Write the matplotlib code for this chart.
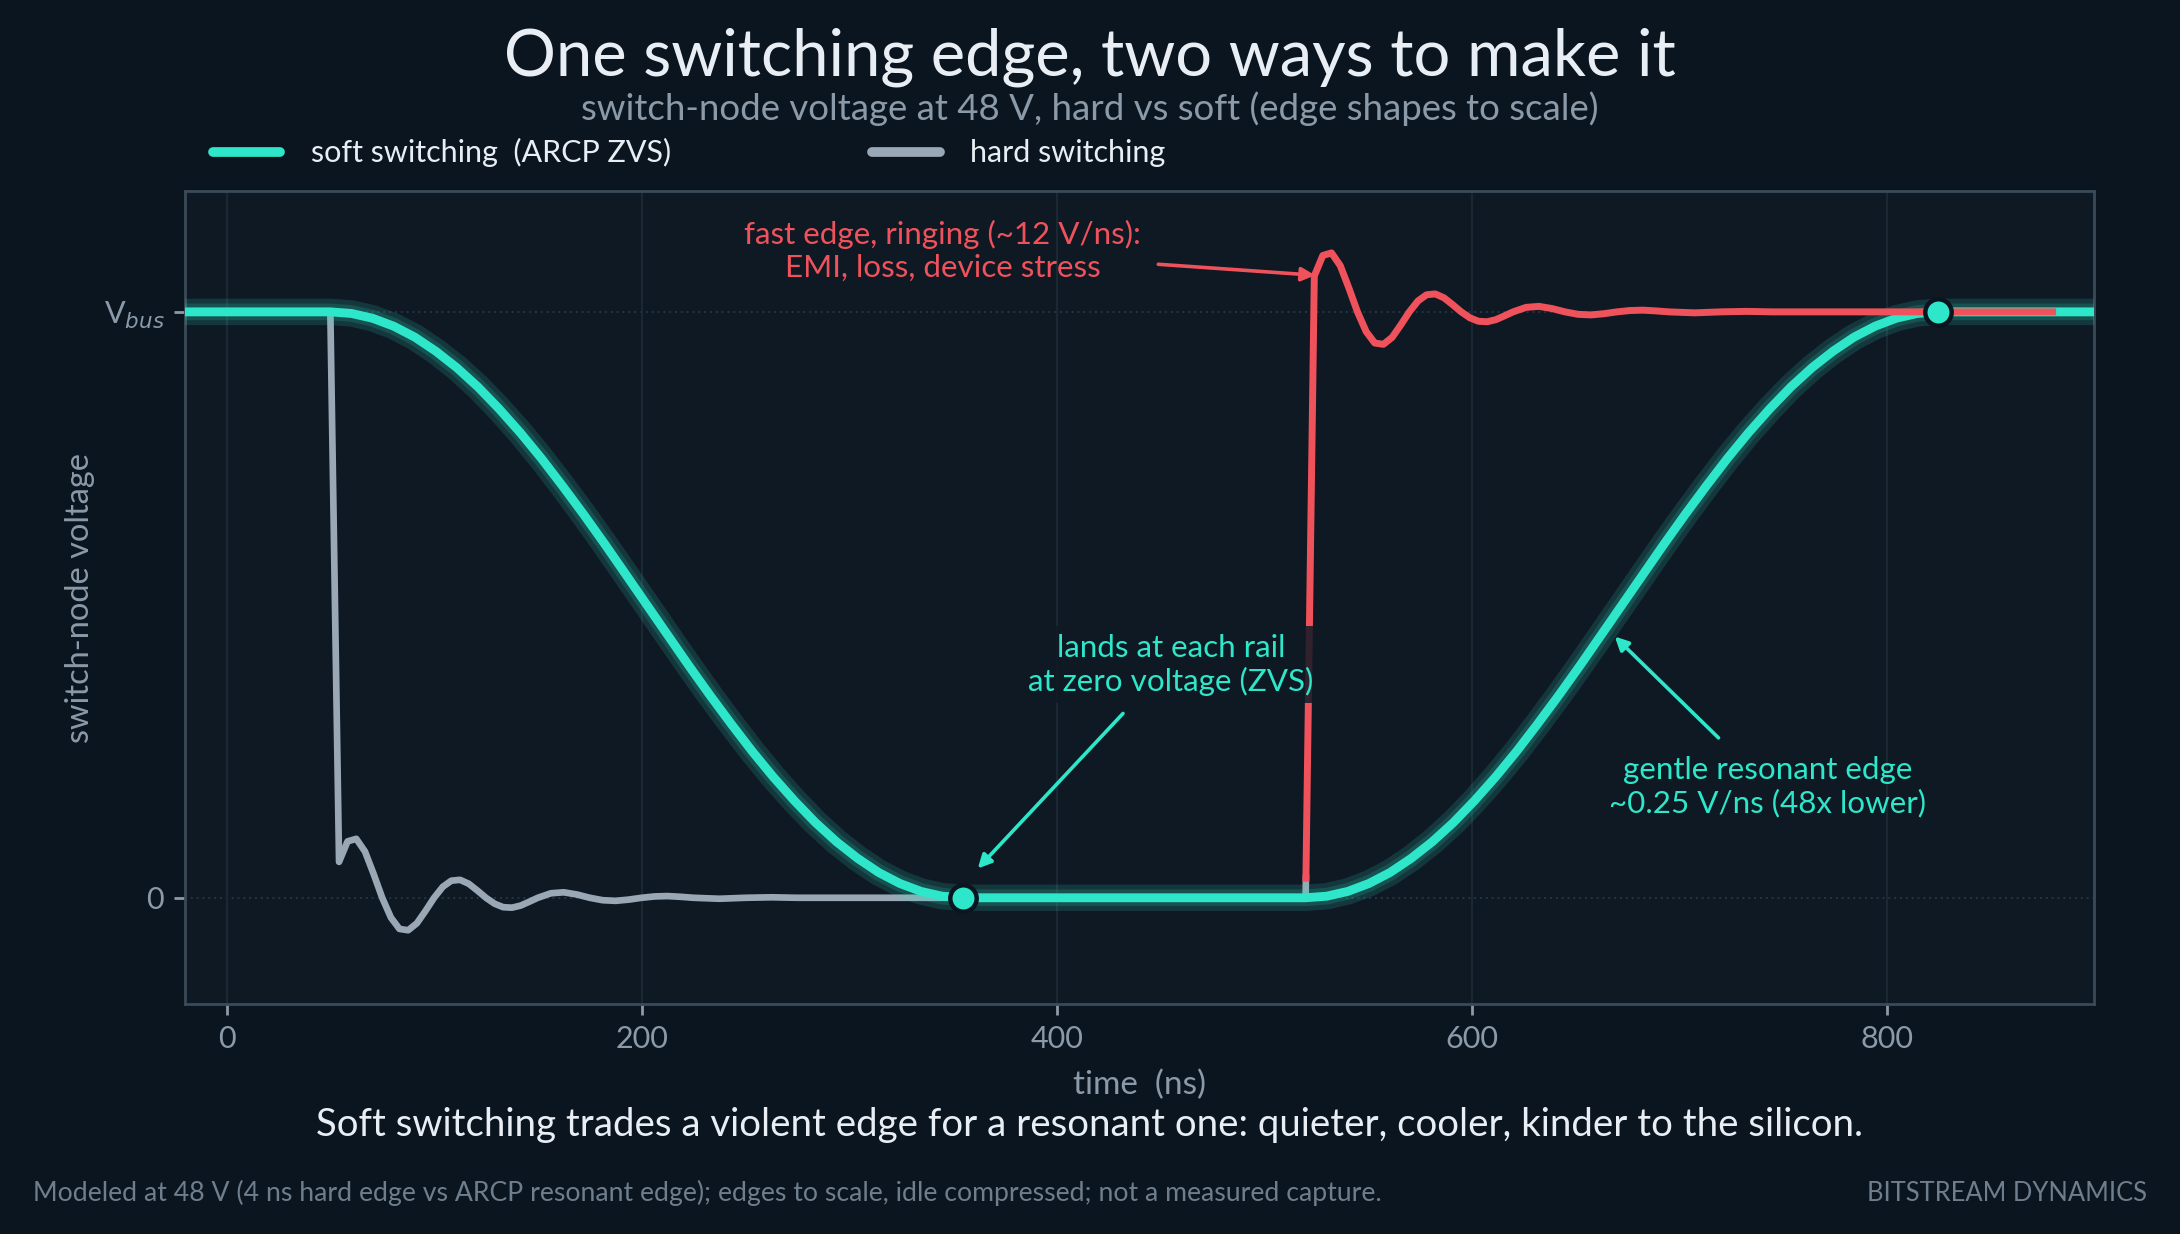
import matplotlib
matplotlib.use('Agg')
import matplotlib.pyplot as plt
from matplotlib.lines import Line2D

plt.rcParams['font.family'] = ['Lato', 'DejaVu Sans']

BG = '#0b1520'
AX_BG = '#0f1924'
TEAL = '#2ee6c9'
GRAY = '#9aa8b5'
RED = '#f0525c'
MUTED = '#8b9aa8'
TEXT = '#e8eef3'

VBUS = 48

# soft switching (ARCP ZVS): resonant fall and rise
soft_t = [-20, 50, 60.2, 70.3, 80.5, 90.7, 100.8, 111.0, 121.2, 131.3, 141.5, 151.7,
          161.8, 172.0, 182.2, 192.3, 202.5, 212.7, 222.8, 233.0, 243.2, 253.3, 263.5,
          273.7, 283.8, 294.0, 304.2, 314.3, 324.5, 334.7, 344.8, 355,
          520, 530.2, 540.3, 550.5, 560.7, 570.8, 581.0, 591.2, 601.3, 611.5, 621.7,
          631.8, 642.0, 652.2, 662.3, 672.5, 682.7, 692.8, 703.0, 713.2, 723.3, 733.5,
          743.7, 753.8, 764.0, 774.2, 784.3, 794.5, 804.7, 814.8, 825, 900]
soft_v = [48, 48, 47.87, 47.48, 46.83, 45.93, 44.78, 43.42, 41.84, 40.06, 38.11, 36.00,
          33.76, 31.42, 28.99, 26.51, 24.00, 21.49, 19.01, 16.58, 14.24, 12.00, 9.89,
          7.94, 6.16, 4.58, 3.22, 2.07, 1.17, 0.52, 0.13, 0,
          0, 0.13, 0.52, 1.17, 2.07, 3.22, 4.58, 6.16, 7.94, 9.89, 12.00,
          14.24, 16.58, 19.01, 21.49, 24.00, 26.51, 28.99, 31.42, 33.76, 36.00, 38.11,
          40.06, 41.84, 43.42, 44.78, 45.93, 46.83, 47.48, 47.87, 48, 48]

# hard switching: 4 ns falling edge + ringing
hard_t = [-20, 50, 54.2, 58.3, 62.5, 66.7, 70.8, 75.0, 79.2, 83.3, 87.5, 91.7, 95.8,
          100.0, 104.2, 108.3, 112.5, 116.7, 120.8, 125.0, 129.2, 133.3, 137.5, 141.7,
          145.8, 150.0, 156.3, 162.5, 168.8, 175.0, 181.3, 187.5, 193.8, 200.0, 206.3,
          212.5, 218.8, 225.0, 237.5, 250.0, 262.5, 275.0, 520, 520.15]
hard_v = [48, 48, 2.94, 4.62, 4.83, 3.79, 1.98, 0, -1.62, -2.55, -2.66, -2.09, -1.09,
          0, 0.90, 1.40, 1.47, 1.15, 0.60, 0, -0.49, -0.77, -0.81, -0.64,
          -0.33, 0, 0.37, 0.45, 0.27, 0, -0.20, -0.25, -0.15, 0, 0.11,
          0.14, 0.08, 0, -0.08, 0, 0.04, 0, 0, 1.6]

# hard switching rising edge (highlighted)
ring_t = [520.15, 524.2, 528.3, 532.5, 536.7, 540.8, 545.0, 549.2, 553.3, 557.5, 561.7,
          565.8, 570.0, 574.2, 578.3, 582.5, 586.7, 590.8, 595.0, 599.2, 603.3, 607.5,
          611.7, 615.8, 620.0, 626.3, 632.5, 638.8, 645.0, 651.3, 657.5, 663.8, 670.0,
          676.3, 682.5, 688.8, 695.0, 707.5, 720.0, 732.5, 745.0, 880]
ring_v = [1.6, 50.94, 52.62, 52.83, 51.79, 49.98, 48, 46.38, 45.45, 45.34, 45.91,
          46.91, 48, 48.90, 49.40, 49.47, 49.15, 48.60, 48, 47.51, 47.23, 47.19,
          47.36, 47.67, 48, 48.37, 48.45, 48.27, 48, 47.80, 47.75, 47.85, 48,
          48.11, 48.14, 48.08, 48, 47.92, 48, 48.04, 48, 48]

zvs_t = [355, 825]
zvs_v = [0, 48]

fig = plt.figure(figsize=(10.9, 6.17), dpi=200, facecolor=BG)
ax = fig.add_axes([0.0849, 0.1864, 0.8757, 0.6588])
ax.set_facecolor(AX_BG)

ax.set_xlim(-20, 900)
ax.set_ylim(-8.7, 57.9)
ax.set_xticks([0, 200, 400, 600, 800])
ax.set_yticks([0, VBUS])
ax.set_yticklabels(['0', r'V$_{bus}$'])
ax.tick_params(colors=MUTED, labelsize=11, length=4, width=1)
for s in ax.spines.values():
    s.set_color('#3a4a58')
    s.set_linewidth(1.0)

ax.grid(axis='x', color='#1a2834', lw=0.8)
for yv in [0, VBUS]:
    ax.axhline(yv, color='#263542', lw=0.7, ls=(0, (1, 2)), zorder=1)

ax.plot(hard_t, hard_v, color=GRAY, lw=2.4, zorder=2, solid_joinstyle='round')
ax.plot(soft_t, soft_v, color=TEAL, lw=9.5, alpha=0.15, zorder=3, solid_capstyle='butt')
ax.plot(soft_t, soft_v, color=TEAL, lw=6, alpha=0.15, zorder=3, solid_capstyle='butt')
ax.plot(soft_t, soft_v, color=TEAL, lw=3.2, zorder=3)
ax.plot(ring_t, ring_v, color=RED, lw=2.5, zorder=4, solid_joinstyle='round')
ax.plot(zvs_t, zvs_v, 'o', color=TEAL, ms=9.5, mec=BG, mew=1.6, zorder=7)

ax.set_xlabel('time  (ns)', color=MUTED, fontsize=12, labelpad=6)
ax.set_ylabel('switch-node voltage', color=MUTED, fontsize=11.7, labelpad=3)

arrow_kw = dict(arrowstyle='-|>', lw=1.3, mutation_scale=10, shrinkA=0, shrinkB=0)
ax.text(345, 53.0, 'fast edge, ringing (~12 V/ns):\nEMI, loss, device stress',
        color=RED, fontsize=11.3, ha='center', va='center', zorder=6)
ax.annotate('', xy=(524.6, 51.0), xytext=(449, 51.9),
            arrowprops=dict(color=RED, **arrow_kw), zorder=6)

ax.text(455, 19.1, 'lands at each rail\nat zero voltage (ZVS)', color=TEAL,
        fontsize=11.3, ha='center', va='center', zorder=6,
        bbox=dict(boxstyle='square,pad=0.25', fc=AX_BG, ec='none', alpha=0.85))
ax.annotate('', xy=(362, 2.4), xytext=(432, 15.1),
            arrowprops=dict(color=TEAL, **arrow_kw), zorder=6)

ax.text(742.5, 9.1, 'gentle resonant edge\n~0.25 V/ns (48x lower)', color=TEAL,
        fontsize=11.3, ha='center', va='center', zorder=6)
ax.annotate('', xy=(669, 21.4), xytext=(719, 13.1),
            arrowprops=dict(color=TEAL, **arrow_kw), zorder=6)

handles = [Line2D([], [], color=TEAL, lw=3.5, solid_capstyle='round'),
           Line2D([], [], color=GRAY, lw=3.5, solid_capstyle='round')]
ax.legend(handles, ['soft switching  (ARCP ZVS)', 'hard switching'],
          loc='lower left', bbox_to_anchor=(0.0145, 1.029), ncol=2, frameon=False,
          handlelength=2.2, handletextpad=1.0, columnspacing=6.6,
          borderaxespad=0, borderpad=0, labelcolor=TEXT, fontsize=11)

fig.text(0.5, 0.954, 'One switching edge, two ways to make it', color=TEXT,
         fontsize=23.4, ha='center', va='center')
fig.text(0.5, 0.912, 'switch-node voltage at 48 V, hard vs soft (edge shapes to scale)',
         color=MUTED, fontsize=13.2, ha='center', va='center')
fig.text(0.5, 0.088, 'Soft switching trades a violent edge for a resonant one: '
         'quieter, cooler, kinder to the silicon.',
         color=TEXT, fontsize=13.8, ha='center', va='center')
fig.text(0.015, 0.033, 'Modeled at 48 V (4 ns hard edge vs ARCP resonant edge); '
         'edges to scale, idle compressed; not a measured capture.',
         color='#6f7e8c', fontsize=9.6, ha='left', va='center')
fig.text(0.985, 0.033, 'BITSTREAM DYNAMICS', color='#6f7e8c', fontsize=9.2,
         ha='right', va='center')

fig.savefig('out.png', dpi=200, facecolor=BG)
